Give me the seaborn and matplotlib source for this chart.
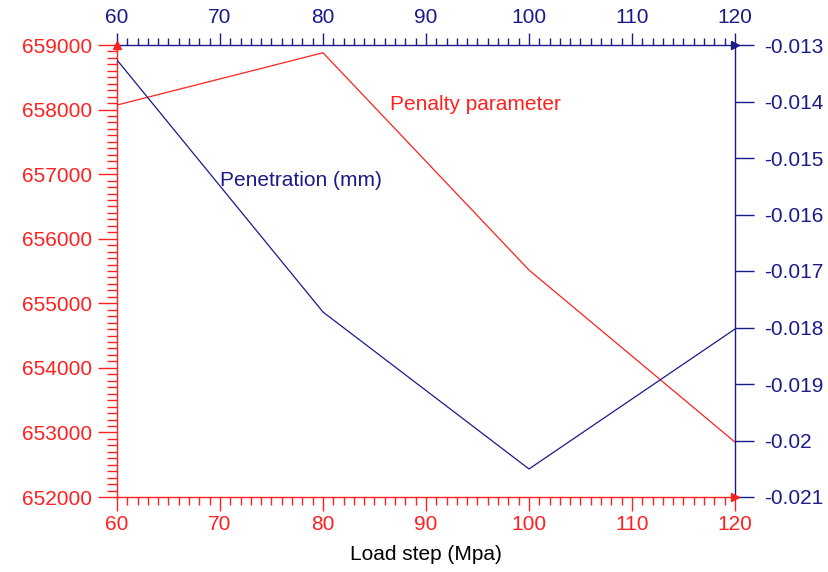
import numpy as np
import pandas as pd
import matplotlib
matplotlib.use('Agg')
import matplotlib.pyplot as plt
from matplotlib.ticker import MultipleLocator, FuncFormatter
import seaborn as sns

sns.set_style('white')
plt.rcParams['font.family'] = ['Liberation Sans', 'DejaVu Sans']
plt.rcParams['axes.unicode_minus'] = False

load_step = [60, 80, 100, 120]
penalty = [658070, 658880, 655515, 652850]
penetration = [-0.013265, -0.017726, -0.020504, -0.018027]

red = '#ff2020'
navy = '#1a1a88'

fig = plt.figure(figsize=(8.29, 5.72), dpi=100)
pos = [117 / 829, 1 - 497 / 572, (735 - 117) / 829, (497 - 45) / 572]
ax = fig.add_axes(pos)
ax2 = fig.add_axes(pos, frameon=False)

df = pd.DataFrame({'x': load_step, 'pen': penalty, 'dep': penetration})

# Penalty parameter on left / bottom (red)
sns.lineplot(data=df, x='x', y='pen', color=red, lw=0.9, ax=ax)
ax.set_xlim(60, 120)
ax.set_ylim(652000, 659000)
ax.xaxis.set_major_locator(MultipleLocator(10))
ax.xaxis.set_minor_locator(MultipleLocator(1))
ax.yaxis.set_major_locator(MultipleLocator(1000))
ax.yaxis.set_minor_locator(MultipleLocator(100))
ax.yaxis.set_major_formatter(FuncFormatter(lambda v, p: '%d' % v))
ax.set_xlabel('Load step (Mpa)', fontsize=15, color='black', labelpad=8)
ax.set_ylabel('')
for s in ['left', 'bottom']:
    ax.spines[s].set_color(red)
    ax.spines[s].set_linewidth(1.0)
for s in ['top', 'right']:
    ax.spines[s].set_visible(False)
ax.tick_params(axis='y', which='major', direction='out', length=14, width=1, color=red,
               labelcolor=red, labelsize=15, pad=4, left=True)
ax.tick_params(axis='y', which='minor', direction='out', length=7, width=1, color=red, left=True)
ax.tick_params(axis='x', which='major', direction='out', length=10, width=1, color=red,
               labelcolor=red, labelsize=15, pad=3, bottom=True)
ax.tick_params(axis='x', which='minor', direction='out', length=5.5, width=1, color=red, bottom=True)
ax.text(86.5, 658071, 'Penalty parameter', color=red, fontsize=15, va='center', ha='left')
ax.text(70.0, 656909, 'Penetration (mm)', color=navy, fontsize=15, va='center', ha='left')

# Penetration on right / top (navy)
sns.lineplot(data=df, x='x', y='dep', color=navy, lw=0.9, ax=ax2)
ax2.set_xlim(60, 120)
ax2.set_ylim(-0.021, -0.013)
ax2.patch.set_alpha(0)
ax2.xaxis.tick_top()
ax2.yaxis.tick_right()
ax2.set_xlabel('')
ax2.set_ylabel('')
ax2.xaxis.set_major_locator(MultipleLocator(10))
ax2.xaxis.set_minor_locator(MultipleLocator(1))
ax2.yaxis.set_major_locator(MultipleLocator(0.001))
ax2.yaxis.set_major_formatter(FuncFormatter(lambda v, p: '%g' % round(v, 4)))
ax2.tick_params(axis='x', which='major', direction='out', length=9, width=1, color=navy,
                labelcolor=navy, labelsize=15, pad=4, top=True, bottom=False)
ax2.tick_params(axis='x', which='minor', direction='out', length=5, width=1, color=navy, top=True, bottom=False)
ax2.tick_params(axis='y', which='major', direction='out', length=14, width=1, color=navy,
                labelcolor=navy, labelsize=15, pad=7, right=True, left=False)
ax2.plot([0, 1], [1, 1], transform=ax2.transAxes, color=navy, lw=1.0, clip_on=False)
ax2.plot([1, 1], [0, 1], transform=ax2.transAxes, color=navy, lw=1.0, clip_on=False)

# arrow heads at axis ends
ax2.plot([1], [1], marker='>', ms=6, color=navy, transform=ax2.transAxes, clip_on=False)
ax2.plot([1], [0], marker='>', ms=6, color=red, transform=ax2.transAxes, clip_on=False)
ax2.plot([0], [1], marker='^', ms=6, color=red, transform=ax2.transAxes, clip_on=False)

fig.savefig('out.png', dpi=100)
